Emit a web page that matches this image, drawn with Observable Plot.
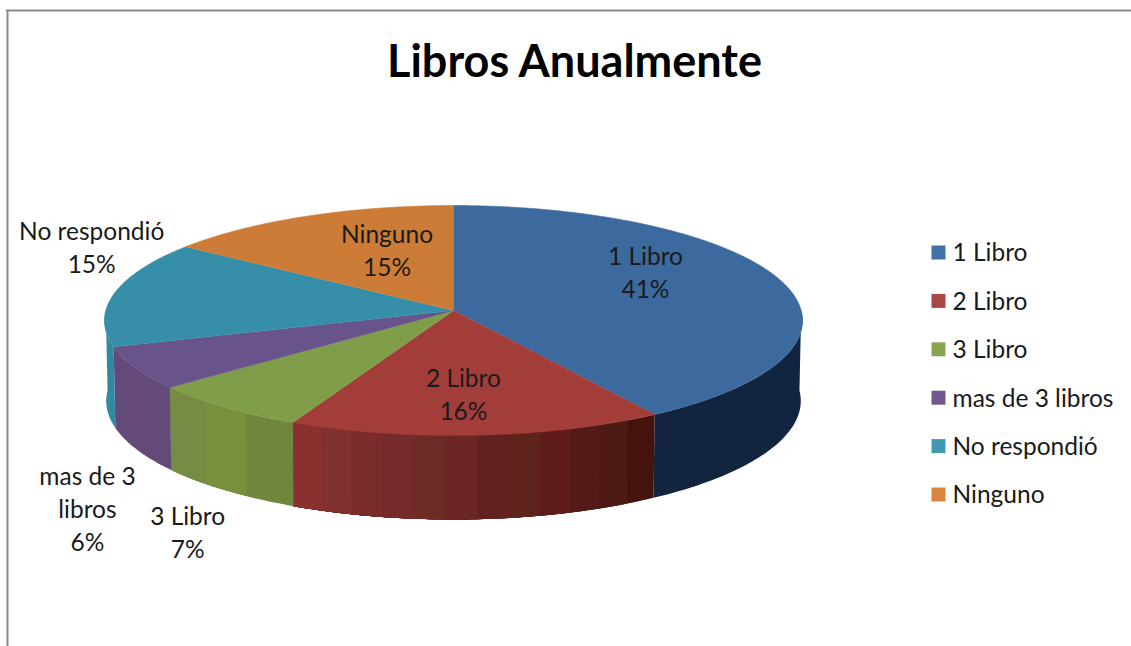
<!DOCTYPE html>
<html>
<head>
<meta charset="utf-8">
<script src="https://cdn.jsdelivr.net/npm/d3@7"></script>
<script src="https://cdn.jsdelivr.net/npm/@observablehq/plot@0.6"></script>
<style>
html,body{margin:0;padding:0;background:#fff;overflow:hidden}
svg{display:block}
</style>
</head>
<body>
<div id="chart"></div>
<script>
const categories = ["1 Libro", "2 Libro", "3 Libro", "mas de 3 libros", "No respondió", "Ninguno"];
const percents = [41, 16, 7, 6, 15, 15];
const chartTitle = "Libros Anualmente";
const sliceLabels = ["1 Libro\n41%", "2 Libro\n16%", "3 Libro\n7%", "mas de 3\nlibros\n6%", "No respondió\n15%", "Ninguno\n15%"];

const topColors = ["#3c6a9e", "#a23d3a", "#809d49", "#68538a", "#378ea9", "#cc7c36"];
const legendColors = ["#3f72a8", "#aa4644", "#89a54e", "#71588f", "#4298af", "#db843d"];
const sideBands = [
  ["#13243f"],
  ["#46120d", "#4d1a14", "#541a18", "#601c1c", "#5e231a", "#632020", "#6a2524", "#6e2a24", "#742b29", "#7a2c2a", "#80302d", "#8a302f"],
  ["#6f863c", "#798f3c", "#768c45"],
  ["#634a78"],
  ["#2f8a9d"],
  ["#a8622a"]
];
const labelNudges = [[-134, -8.5], [-14, -42.5], [-37, 123.5], [-48, 139.5], [-23, -46.5], [80, 32.5]];

// perspective disc
const apex = {x: 453, y: 310}, rx = 347.7, ry = 114.1, persp = 0.087;
const rim = (deg, scale = 1) => {
  const t = deg * Math.PI / 180, u = Math.sin(t), v = Math.cos(t), d = 1 + persp * v;
  return {x: apex.x + scale * rx * u / d, y: apex.y - ry * v / d, v};
};
const lowerRim = deg => {
  const p = rim(deg, 0.995);
  return {x: p.x, y: p.y + 80 + 4 * Math.abs(p.v)};
};

const total = d3.sum(percents);
let acc = 0;
const slices = categories.map((name, i) => {
  const a0 = acc / total * 360;
  acc += percents[i];
  return {name, i, a0, a1: acc / total * 360};
});

const topPoly = [];
const sidePoly = [];
slices.forEach(s => {
  topPoly.push({id: s.name, fill: topColors[s.i], ...apex});
  for (let a = s.a0; a < s.a1; a += 0.5) topPoly.push({id: s.name, fill: topColors[s.i], ...rim(a)});
  topPoly.push({id: s.name, fill: topColors[s.i], ...rim(s.a1)});

  const from = Math.max(s.a0, 90), to = Math.min(s.a1, 270);
  if (to <= from) return;
  const bands = sideBands[s.i];
  // each band runs to the slice's far end and the next one paints over it, so no seams show
  bands.forEach((fill, b) => {
    const a = from + (to - from) * b / bands.length;
    const id = s.name + "-" + b, steps = Math.max(2, Math.ceil(to - a));
    for (let k = 0; k <= steps; k++) sidePoly.push({id, fill, ...rim(a + (to - a) * k / steps)});
    for (let k = steps; k >= 0; k--) sidePoly.push({id, fill, ...lowerRim(a + (to - a) * k / steps)});
  });
});

const labels = slices.map(s => {
  const p = rim((s.a0 + s.a1) / 2);
  return {text: sliceLabels[s.i], x: p.x + labelNudges[s.i][0], y: p.y + labelNudges[s.i][1]};
});
const legendRows = categories.map((name, i) => ({name, fill: legendColors[i], x: 938, y: 252 + i * 48.4}));

const font = "Lato, 'Open Sans', sans-serif";
const chart = Plot.plot({
  width: 1131, height: 646,
  margin: 0,
  style: {fontFamily: font, background: "#fff"},
  x: {domain: [0, 1131], range: [0, 1131], axis: null},
  y: {domain: [0, 646], range: [0, 646], axis: null},
  color: {type: "identity"},
  marks: [
    Plot.ruleX([7], {y1: 10, y2: 646, stroke: "#8a8a8a", strokeWidth: 2}),
    Plot.ruleY([10], {x1: 6, x2: 1131, stroke: "#8a8a8a", strokeWidth: 2}),
    Plot.line(sidePoly, {x: "x", y: "y", z: "id", fill: "fill"}),
    Plot.line(topPoly, {x: "x", y: "y", z: "id", fill: "fill", stroke: "fill", strokeWidth: 0.6}),
    Plot.text([chartTitle], {x: () => 574, y: () => 62, text: d => d, fontSize: 45, fontWeight: 700, fill: "#000", fontFamily: font}),
    Plot.text(labels, {x: "x", y: "y", text: "text", fontSize: 24.5, lineHeight: 1.347, fill: "#1a1a1a", lineAnchor: "middle"}),
    Plot.dot(legendRows, {x: "x", y: "y", symbol: "square", r: 7.9, fill: "fill"}),
    Plot.text(legendRows, {x: () => 952, y: d => d.y + 1, text: "name", textAnchor: "start", fontSize: 24.5, fill: "#1a1a1a"})
  ]
});
document.getElementById("chart").appendChild(chart);
</script>
</body>
</html>
